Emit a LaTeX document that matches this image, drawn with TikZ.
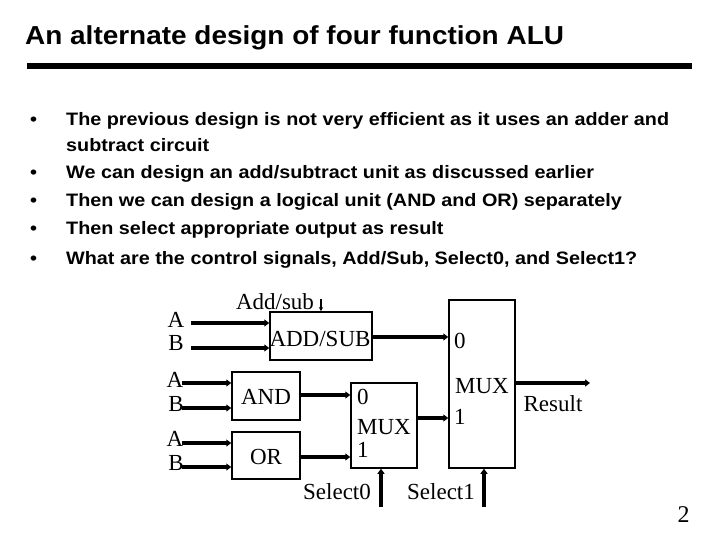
\documentclass[tikz,border=0pt]{standalone}
\usepackage{fontspec}
\setmainfont{Liberation Serif}
\newfontfamily\titlef[FakeStretch=1.075]{Liberation Sans}
\newfontfamily\bulletf[FakeStretch=1.1]{Liberation Sans}
\usetikzlibrary{arrows.meta}
\tikzset{
  box/.style={draw, line width=1.5pt, inner sep=0pt},
  sig/.style={line width=3.2pt, -{Triangle[length=5pt,width=7pt]}},
  dtext/.style={font=\fontsize{23}{25}\selectfont, inner sep=0pt},
  btext/.style={font=\bulletf\bfseries\fontsize{18}{20}\selectfont, anchor=base west, inner sep=0pt},
}
\begin{document}
\begin{tikzpicture}[x=1pt,y=-1pt]
\useasboundingbox (0,0) rectangle (720,540);
% title
\node[font=\titlef\bfseries\fontsize{26}{28}\selectfont, anchor=base west, inner sep=0pt] (title) at (25,45) {An alternate design of four function ALU};
\fill (27,63) rectangle (692,69);
% bullets
\foreach \yy in {126,179,207,235,264} \node[btext] at (30,\yy) {•};
\node[btext] (b1) at (66,126) {The previous design is not very efficient as it uses an adder and};
\node[btext] (b1b) at (66,152) {subtract circuit};
\node[btext] (b2) at (66,179) {We can design an add/subtract unit as discussed earlier};
\node[btext] (b3) at (66,207) {Then we can design a logical unit (AND and OR) separately};
\node[btext] (b4) at (66,235) {Then select appropriate output as result};
\node[btext] (b5) at (66,264) {What are the control signals, Add/Sub, Select0, and Select1?};
% boxes
\node[box, minimum width=102pt, minimum height=48pt] (addsub) at (321,336) {};
\node[box, minimum width=68pt, minimum height=48pt] (andg) at (266,396) {};
\node[box, minimum width=68pt, minimum height=47pt] (org) at (266,455.5) {};
\node[box, minimum width=66pt, minimum height=85pt] (muxa) at (384,425.5) {};
\node[box, minimum width=66pt, minimum height=168pt] (muxb) at (482,384) {};
% box texts
\node[dtext] (tas) at (320,339) {ADD/SUB};
\node[dtext] (tand) at (266,397) {AND};
\node[dtext] (tor) at (266,457) {OR};
\node[dtext, anchor=west] (ma0) at (357,397) {0};
\node[dtext] (mam) at (384,427) {MUX};
\node[dtext, anchor=west] (ma1) at (357,450) {1};
\node[dtext, anchor=west] (mb0) at (454,341) {0};
\node[dtext] (mbm) at (482,386) {MUX};
\node[dtext, anchor=west] (mb1) at (454,417) {1};
% input labels
\node[dtext] (a1) at (176,320) {A};
\node[dtext] (b1l) at (176,343) {B};
\node[dtext] (a2) at (175,380) {A};
\node[dtext] (b2l) at (176,404) {B};
\node[dtext] (a3) at (175,439) {A};
\node[dtext] (b3l) at (176,463) {B};
% input arrows
\coordinate (pa1) at (191,323);
\coordinate (pb1) at (191,348);
\coordinate (pa2) at (182,383);
\coordinate (pb2) at (182,408);
\coordinate (pa3) at (182,443);
\coordinate (pb3) at (182,467);
\draw[sig] (pa1) -- (addsub.west |- pa1);
\draw[sig] (pb1) -- (addsub.west |- pb1);
\draw[sig] (pa2) -- (andg.west |- pa2);
\draw[sig] (pb2) -- (andg.west |- pb2);
\draw[sig] (pa3) -- (org.west |- pa3);
\draw[sig] (pb3) -- (org.west |- pb3);
% internal connections
\coordinate (oas) at (addsub.east |- 0,337);
\draw[sig] (oas) -- (muxb.west |- oas);
\coordinate (oand) at (andg.east |- 0,395);
\draw[sig] (oand) -- (muxa.west |- oand);
\coordinate (oor) at (org.east |- 0,457);
\draw[sig] (oor) -- (muxa.west |- oor);
\coordinate (omuxa) at (muxa.east |- 0,418);
\draw[sig] (omuxa) -- (muxb.west |- omuxa);
% output
\coordinate (res) at (590,383);
\draw[sig] (muxb.east |- res) -- (res);
\node[dtext] (rest) at (553,404) {Result};
% control
\node[dtext] (addsubl) at (275,302) {Add/sub};
\coordinate (cas) at (321,299);
\draw[line width=1.2pt, -{Triangle[length=4pt,width=4pt]}] (cas) -- (addsub.north -| cas);
\coordinate (s0) at (381,507);
\draw[sig] (s0) -- (muxa.south -| s0);
\node[dtext] (s0l) at (337,492) {Select0};
\coordinate (s1) at (484,507);
\draw[sig] (s1) -- (muxb.south -| s1);
\node[dtext] (s1l) at (441,492) {Select1};
% page number
\node[font=\fontsize{24}{26}\selectfont, inner sep=0pt] (pg) at (683.5,515) {2};
\end{tikzpicture}
\end{document}
